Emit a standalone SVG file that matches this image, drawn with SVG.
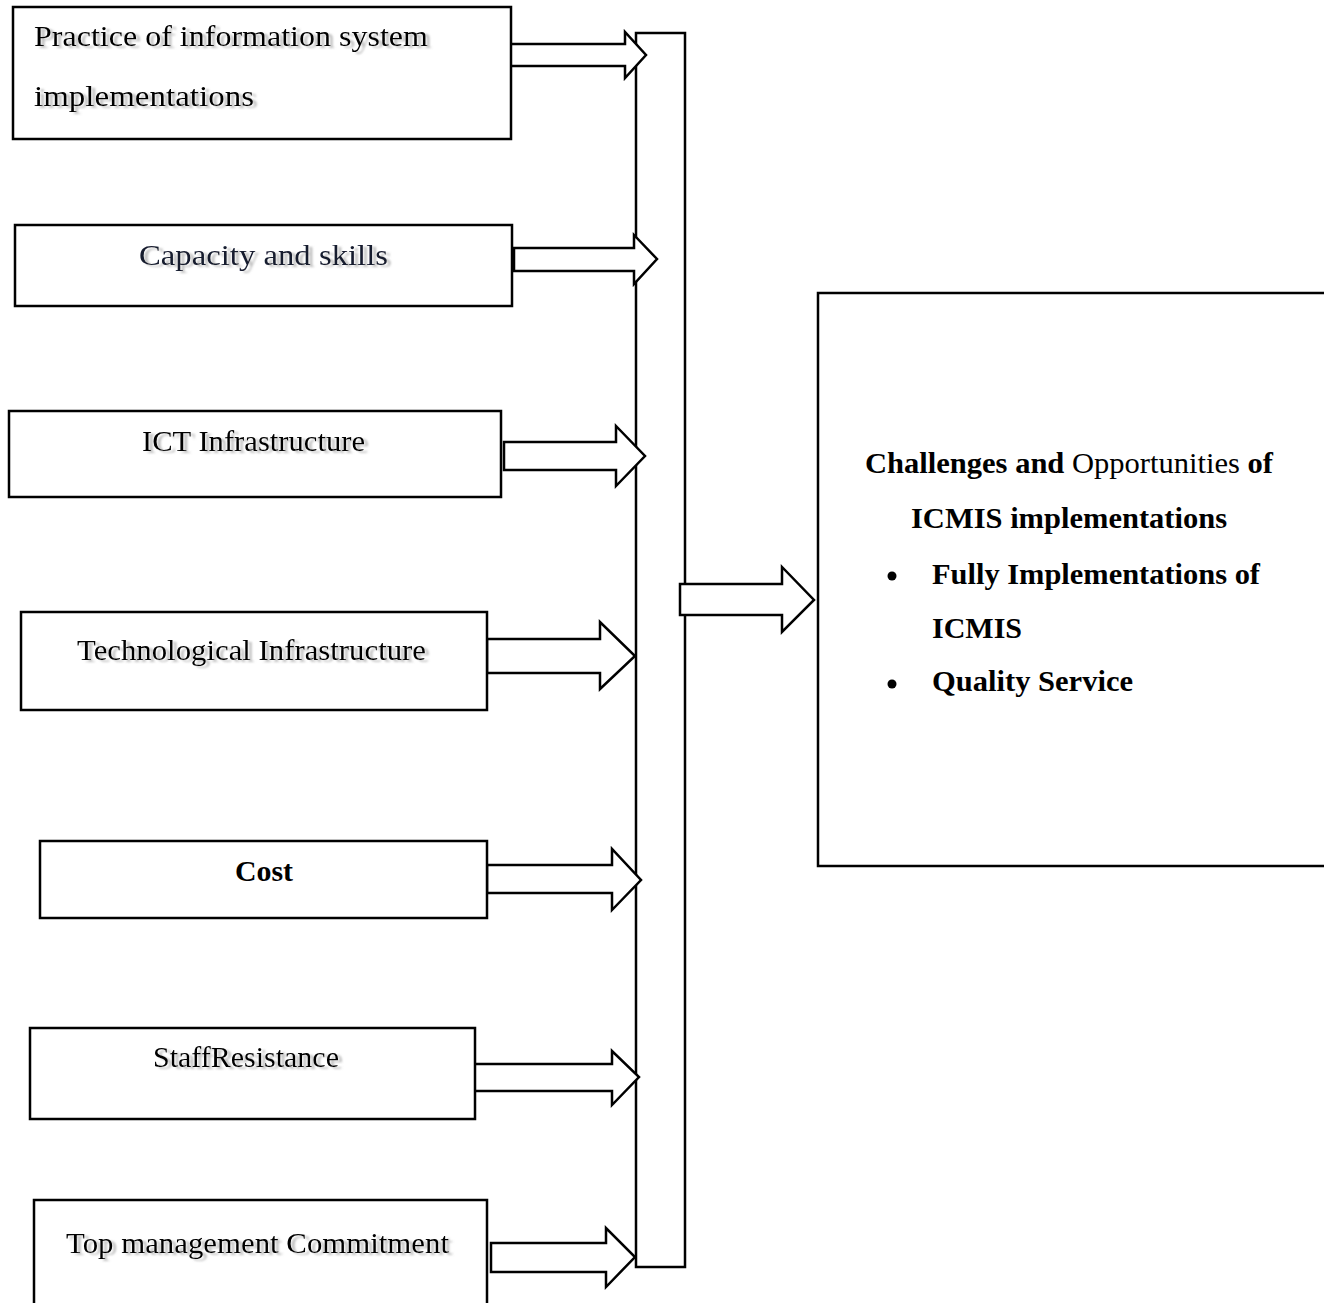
<svg xmlns="http://www.w3.org/2000/svg" width="1324" height="1303" viewBox="0 0 1324 1303">
  <defs>
    <style>
      .box { fill: #ffffff; stroke: #000000; stroke-width: 2.5; }
      .arrow { fill: #ffffff; stroke: #000000; stroke-width: 2.5; stroke-linejoin: miter; }
      .lbl { font-family: "Liberation Serif", "Times New Roman", serif; font-size: 30px; fill: #000000; }
      .b { font-weight: bold; }
      .sh { filter: url(#shadow); }
    </style>
    <filter id="shadow" x="-5%" y="-30%" width="115%" height="160%">
      <feGaussianBlur in="SourceAlpha" stdDeviation="1.3" result="bl"/>
      <feOffset in="bl" dx="4" dy="2" result="off"/>
      <feFlood flood-color="#8a8a8a" flood-opacity="0.55"/>
      <feComposite in2="off" operator="in" result="shd"/>
      <feMerge>
        <feMergeNode in="shd"/>
        <feMergeNode in="SourceGraphic"/>
      </feMerge>
    </filter>
  </defs>
  <rect width="1324" height="1303" fill="#ffffff"/>

  <g id="connectors">
    <rect id="collector-bar" class="box" x="636" y="33" width="49" height="1234"/>
    <polygon class="arrow" points="507,44 625,44 625,32 646,55 625,78 625,66 507,66"/>
    <polygon class="arrow" points="514,248 634,248 634,235 657,259 634,284 634,271 514,271"/>
    <polygon class="arrow" points="504,442 616,442 616,426 645,456 616,486 616,470 504,470"/>
    <polygon class="arrow" points="487,639 600,639 600,622 635,656 600,689 600,673 487,673"/>
    <polygon class="arrow" points="487,865 612,865 612,849 641,880 612,910 612,893 487,893"/>
    <polygon class="arrow" points="472,1064 612,1064 612,1051 639,1077 612,1105 612,1091 472,1091"/>
    <polygon class="arrow" points="491,1243 606,1243 606,1228 635,1257 606,1287 606,1272 491,1272"/>
    <polygon class="arrow" points="680,584 782,584 782,567 814,600 782,632 782,615 680,615"/>
  </g>

  <g id="node-practice">
    <rect class="box" x="13" y="7" width="498" height="132"/>
    <text class="lbl sh" x="34" y="46" textLength="394" lengthAdjust="spacingAndGlyphs">Practice of information system</text>
    <text class="lbl sh" x="34" y="106" textLength="220" lengthAdjust="spacingAndGlyphs">implementations</text>
  </g>

  <g id="node-capacity">
    <rect class="box" x="15" y="225" width="497" height="81"/>
    <text class="lbl sh" x="139" y="265" textLength="249" lengthAdjust="spacingAndGlyphs" fill="#141a2e" style="fill:#141a2e">Capacity and skills</text>
  </g>

  <g id="node-ict">
    <rect class="box" x="9" y="411" width="492" height="86"/>
    <text class="lbl sh" x="142" y="451" textLength="223" lengthAdjust="spacingAndGlyphs">ICT Infrastructure</text>
  </g>

  <g id="node-tech">
    <rect class="box" x="21" y="612" width="466" height="98"/>
    <text class="lbl sh" x="77" y="660" textLength="349" lengthAdjust="spacingAndGlyphs">Technological Infrastructure</text>
  </g>

  <g id="node-cost">
    <rect class="box" x="40" y="841" width="447" height="77"/>
    <text class="lbl b" x="235" y="881" textLength="58" lengthAdjust="spacingAndGlyphs">Cost</text>
  </g>

  <g id="node-staff">
    <rect class="box" x="30" y="1028" width="445" height="91"/>
    <text class="lbl sh" x="153" y="1067" textLength="186" lengthAdjust="spacingAndGlyphs">StaffResistance</text>
  </g>

  <g id="node-top">
    <rect class="box" x="34" y="1200" width="453" height="120"/>
    <text class="lbl sh" x="66" y="1253" textLength="383" lengthAdjust="spacingAndGlyphs">Top management Commitment</text>
  </g>

  <g id="node-outcome">
    <rect class="box" x="818" y="293" width="520" height="573"/>
    <text class="lbl" x="865" y="473" textLength="408" lengthAdjust="spacingAndGlyphs"><tspan class="b">Challenges and</tspan> Opportunities <tspan class="b">of</tspan></text>
    <text class="lbl b" x="911" y="528" textLength="316" lengthAdjust="spacingAndGlyphs">ICMIS implementations</text>
    <circle cx="892" cy="576" r="4.5" fill="#000000"/>
    <text class="lbl b" x="932" y="584" textLength="328" lengthAdjust="spacingAndGlyphs">Fully Implementations of</text>
    <text class="lbl b" x="932" y="638">ICMIS</text>
    <circle cx="892" cy="684" r="4.5" fill="#000000"/>
    <text class="lbl b" x="932" y="691" textLength="201" lengthAdjust="spacingAndGlyphs">Quality Service</text>
  </g>
</svg>
